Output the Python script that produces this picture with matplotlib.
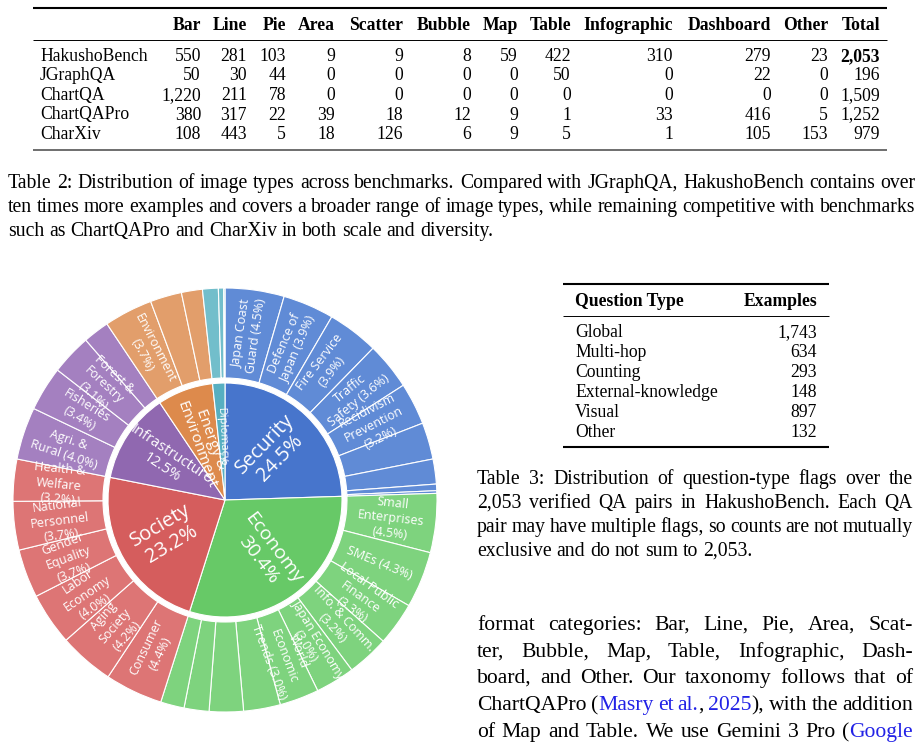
import matplotlib
matplotlib.use("Agg")
import matplotlib.pyplot as plt
from matplotlib.patches import Wedge
import numpy as np

SERIF = "Liberation Serif"
SANS = "Open Sans"
LINK = "#2222e6"

# ---------------- Table 2 data ----------------
t2_columns = ["Bar", "Line", "Pie", "Area", "Scatter", "Bubble", "Map", "Table",
              "Infographic", "Dashboard", "Other", "Total"]
t2_benchmarks = ["HakushoBench", "JGraphQA", "ChartQA", "ChartQAPro", "CharXiv"]
hakusho_counts = [550, 281, 103, 9, 9, 8, 59, 422, 310, 279, 23, 2053]
jgraphqa_counts = [50, 30, 44, 0, 0, 0, 0, 50, 0, 22, 0, 196]
chartqa_counts = [1220, 211, 78, 0, 0, 0, 0, 0, 0, 0, 0, 1509]
chartqapro_counts = [380, 317, 22, 39, 18, 12, 9, 1, 33, 416, 5, 1252]
charxiv_counts = [108, 443, 5, 18, 126, 6, 9, 5, 1, 105, 153, 979]

# ---------------- Table 3 data ----------------
question_types = ["Global", "Multi-hop", "Counting", "External-knowledge", "Visual", "Other"]
question_examples = [1743, 634, 293, 148, 897, 132]

# ---------------- sunburst data ----------------
domain_names = ["Security", "Economy", "Society", "Infrastructure",
                "Energy &\nEnvironment", "Diplomacy"]
domain_shares = [24.5, 30.4, 23.2, 12.5, 7.7, 1.7]
domain_show_pct = [True, True, True, True, False, False]

security_topics = ["Japan Coast\nGuard {}", "Defence of\nJapan {}", "Fire Service\n{}",
                   "Traffic\nSafety {}", "Recidivism\nPrevention\n{}", "", "", "", ""]
security_shares = [4.5, 3.9, 3.9, 3.6, 3.2, 2.8, 1.9, 0.5, 0.2]
economy_topics = ["Small\nEnterprises\n{}", "SMEs {}", "Local Public\nFinance\n{}",
                  "Info. & Comm.\n{}", "Japan Economy\n{}", "World\nEconomic\nTrends {}",
                  "", "", "", ""]
economy_shares = [4.5, 4.3, 3.3, 3.2, 3.0, 3.0, 2.8, 2.6, 1.9, 1.8]
society_topics = ["Consumer\n{}", "Aging\nSociety\n{}", "Labor\nEconomy\n{}",
                  "Gender\nEquality\n{}", "National\nPersonnel\n{}", "Health &\nWelfare\n{}"]
society_shares = [4.4, 4.2, 4.0, 3.7, 3.7, 3.2]
infra_topics = ["Agri. &\nRural {}", "Fisheries\n{}", "Forest &\nForestry\n{}", ""]
infra_shares = [4.0, 3.4, 3.1, 2.0]
energy_topics = ["Environment\n{}", "", ""]
energy_shares = [3.7, 2.4, 1.6]
diplomacy_topics = ["", "", ""]
diplomacy_shares = [1.2, 0.4, 0.1]

inner_colors = ["#4775cc", "#67c967", "#d55d5d", "#9068b0", "#dd8a4c", "#57afc1"]
outer_colors = ["#608bd6", "#7ed37e", "#dd7575", "#a480c0", "#e29e6b", "#72becb"]

fig = plt.figure(figsize=(9.23, 7.42), dpi=100)
ax = fig.add_axes([0, 0, 1, 1])
ax.set_xlim(0, 923)
ax.set_ylim(742, 0)
ax.axis("off")
rend = fig.canvas.get_renderer()


def rule(x0, x1, y, lw, color="black"):
    ax.plot([x0, x1], [y, y], color=color, lw=lw, solid_capstyle="butt")


def words(s, color="black"):
    return [[(w, color)] for w in s.split()]


def place_line(tokens, x0, x1, y, size, justify=True):
    objs, widths = [], []
    for word in tokens:
        parts, w = [], 0
        for txt, col in word:
            t = ax.text(0, y, txt, fontsize=size, color=col, family=SERIF,
                        va="baseline", ha="left")
            ew = t.get_window_extent(rend).width
            parts.append((t, ew))
            w += ew
        objs.append(parts)
        widths.append(w)
    if justify and len(tokens) > 1:
        gap = (x1 - x0 - sum(widths)) / (len(tokens) - 1)
    else:
        gap = size * 100 / 72 * 0.25
    x = x0
    for parts, w in zip(objs, widths):
        xx = x
        for t, ew in parts:
            t.set_x(xx)
            xx += ew
        x += w + gap


# ---------------- Table 2 ----------------
T2 = 12.7
col_right = [201, 247, 286, 335, 403, 471, 518, 571, 673, 771, 828, 880]
rule(33, 887, 7.5, 1.5)
for name, xr in zip(t2_columns, col_right):
    ax.text(xr, 29.5, name, fontsize=T2, family=SERIF, weight="bold",
            ha="right", va="baseline")
rule(33, 887, 39.5, 0.7)
rows = [hakusho_counts, jgraphqa_counts, chartqa_counts, chartqapro_counts, charxiv_counts]
for i, (bench, counts) in enumerate(zip(t2_benchmarks, rows)):
    yb = 61 + i * 19.5
    ax.text(40, yb, bench, fontsize=T2, family=SERIF, ha="left", va="baseline")
    for j, (v, xr) in enumerate(zip(counts, col_right)):
        bold = (i == 0 and j == len(counts) - 1)
        ax.text(xr, yb, f"{v:,}", fontsize=T2, family=SERIF, ha="right", va="baseline",
                weight="bold" if bold else "normal")
rule(33, 887, 149.5, 1.2, "#555555")

CAP = 14.2
place_line(words("Table 2: Distribution of image types across benchmarks. Compared with "
                 "JGraphQA, HakushoBench contains over"), 8, 915, 188, CAP)
place_line(words("ten times more examples and covers a broader range of image types, while "
                 "remaining competitive with benchmarks"), 8, 915, 212, CAP)
place_line(words("such as ChartQAPro and CharXiv in both scale and diversity."),
           8, 915, 236, CAP, justify=False)

# ---------------- Table 3 ----------------
rule(563, 829, 284, 1.5)
ax.text(575, 306, "Question Type", fontsize=T2, family=SERIF, weight="bold",
        ha="left", va="baseline")
ax.text(817, 306, "Examples", fontsize=T2, family=SERIF, weight="bold",
        ha="right", va="baseline")
rule(563, 829, 316, 0.7)
for i, (q, n) in enumerate(zip(question_types, question_examples)):
    yb = 337 + i * 20
    ax.text(575, yb, q, fontsize=T2, family=SERIF, ha="left", va="baseline")
    ax.text(817, yb, f"{n:,}", fontsize=T2, family=SERIF, ha="right", va="baseline")
rule(563, 829, 447, 1.5)

place_line(words("Table 3: Distribution of question-type flags over the"), 477, 913, 484, CAP)
place_line(words("2,053 verified QA pairs in HakushoBench. Each QA"), 477, 913, 508, CAP)
place_line(words("pair may have multiple flags, so counts are not mutually"), 477, 913, 532, CAP)
place_line(words("exclusive and do not sum to 2,053."), 477, 913, 556, CAP, justify=False)

BODY = 15.6
place_line(words("format categories: Bar, Line, Pie, Area, Scat-"), 477, 913, 630, BODY)
place_line(words("ter, Bubble, Map, Table, Infographic, Dash-"), 477, 913, 657, BODY)
place_line(words("board, and Other. Our taxonomy follows that of"), 477, 913, 683, BODY)
place_line(words("ChartQAPro") + [[("(", "black"), ("Masry", LINK)], [("et", LINK)],
                                  [("al.", LINK), (",", "black")], [("2025", LINK), ("),", "black")]]
           + words("with the addition"), 477, 913, 710, BODY)
place_line(words("of Map and Table. We use Gemini 3 Pro") + [[("(", "black"), ("Google", LINK)]],
           477, 913, 737, BODY)

# ---------------- sunburst ----------------
cx, cy = 225, 500
R_IN, R_GAP, R_OUT = 117, 122, 212
children = [(security_topics, security_shares), (economy_topics, economy_shares),
            (society_topics, society_shares), (infra_topics, infra_shares),
            (energy_topics, energy_shares), (diplomacy_topics, diplomacy_shares)]
inner_sizes = [14.5, 14, 14.5, 10.5, 11, 8]
inner_radius = [68, 68, 68, 70, 62, 65]


def radial_rot(phi):
    phi = phi % 360
    return 90 - phi if phi <= 180 else 270 - phi


def pos(r, phi):
    a = np.radians(phi)
    return cx + r * np.sin(a), cy - r * np.cos(a)


start = 0.0
for k, (name, share) in enumerate(zip(domain_names, domain_shares)):
    span = share * 3.6
    ax.add_patch(Wedge((cx, cy), R_IN, start - 90, start + span - 90,
                       facecolor=inner_colors[k], edgecolor="white", lw=0.8))
    mid = start + span / 2
    label = f"{name}\n{share:.1f}%" if domain_show_pct[k] else name
    x, y = pos(inner_radius[k], mid)
    ax.text(x, y, label, fontsize=inner_sizes[k], family=SANS, color="white",
            rotation=radial_rot(mid), rotation_mode="anchor", ha="center", va="center",
            multialignment="center", linespacing=1.1)
    s2 = start
    topics, shares = children[k]
    for topic, v in zip(topics, shares):
        sp = v * 3.6
        ax.add_patch(Wedge((cx, cy), R_OUT, s2 - 90, s2 + sp - 90, width=R_OUT - R_GAP,
                           facecolor=outer_colors[k], edgecolor="white", lw=0.8))
        if topic:
            m = s2 + sp / 2
            x, y = pos((R_OUT + R_GAP) / 2, m)
            ax.text(x, y, topic.format(f"({v:.1f}%)"), fontsize=9, family=SANS, color="white",
                    rotation=radial_rot(m), rotation_mode="anchor", ha="center", va="center",
                    multialignment="center", linespacing=1.22)
        s2 += sp
    start += span

fig.savefig("out.png", dpi=100)
